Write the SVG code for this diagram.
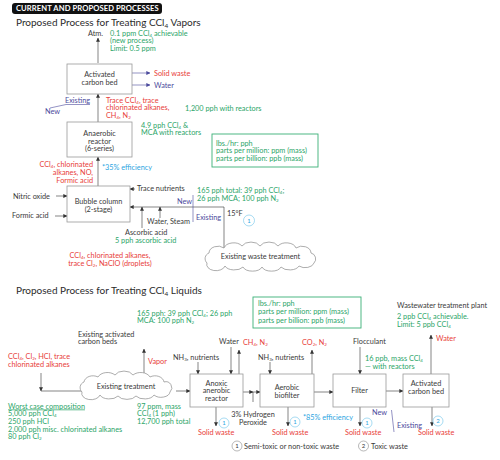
<svg xmlns="http://www.w3.org/2000/svg" width="500" height="460" viewBox="0 0 500 460">
<style>
text{font-family:Lato,"Noto Sans","Liberation Sans",sans-serif;font-size:7.3px;fill:#3a3a3a}
.t{font-size:10px;fill:#2b2b2b}
.h{font-size:7.6px;font-weight:bold;fill:#fff;letter-spacing:0.1px}
.g{fill:#2ba568}
.r{fill:#e8403a}
.p{fill:#4b4a9c}
.b{fill:#2aa5df}
.c{text-anchor:middle}
.e{text-anchor:end}
.sub{font-size:4.5px;baseline-shift:-1px}
.t .sub{font-size:6.5px;baseline-shift:-2px}
.box{fill:#fff;stroke:#9a9a9a;stroke-width:0.8}
.leg{fill:#fff;stroke:#3bb077;stroke-width:0.9}
.cl{fill:#fff;stroke:#8a8a8a;stroke-width:0.7}
.ln{fill:none;stroke:#333;stroke-width:0.6}
.lp{fill:none;stroke:#4b4a9c;stroke-width:0.6}
.ci{fill:#fff;stroke:#6cc3ea;stroke-width:0.6}
.cg{fill:#fff;stroke:#888;stroke-width:0.6}
.cn{font-size:6px;fill:#2aa5df;text-anchor:middle}
.cd{font-size:6px;fill:#333;text-anchor:middle}
</style>
<defs>
<marker id="a" viewBox="0 0 6 6" refX="5.5" refY="3" markerWidth="4" markerHeight="4" markerUnits="userSpaceOnUse" orient="auto"><path d="M0,0L6,3L0,6z" fill="#333"/></marker>
<marker id="ap" viewBox="0 0 6 6" refX="5.5" refY="3" markerWidth="4" markerHeight="4" markerUnits="userSpaceOnUse" orient="auto"><path d="M0,0L6,3L0,6z" fill="#4b4a9c"/></marker>
</defs>

<rect x="12" y="3" width="150" height="11" rx="3" fill="#111"/>
<text class="h" x="16" y="11.3">CURRENT AND PROPOSED PROCESSES</text>

<text class="t" x="16" y="26">Proposed Process for Treating CCl<tspan class="sub">4</tspan> Vapors</text>
<text class="t" x="16" y="293.5">Proposed Process for Treating CCl<tspan class="sub">4</tspan> Liquids</text>

<g id="connectors">
<path class="ln" d="M98,63V38" marker-end="url(#a)"/>
<path class="lp" d="M132,73H150" marker-end="url(#ap)"/>
<path class="lp" d="M132,85H150" marker-end="url(#ap)"/>
<path class="lp" d="M90,104.5H66L50,108"/>
<path class="ln" d="M98,122V94" marker-end="url(#a)"/>
<path class="ln" d="M98,187V157" marker-end="url(#a)"/>
<path class="ln" d="M56,196H67" marker-end="url(#a)"/>
<path class="ln" d="M55,216H67" marker-end="url(#a)"/>
<path class="ln" d="M135,189H130" marker-end="url(#a)"/>
<path class="ln" d="M224,248V207H130" marker-end="url(#a)"/>
<path class="ln" d="M142,228V207" marker-end="url(#a)"/>
<path class="ln" d="M160,218V207" marker-end="url(#a)"/>
<path class="lp" d="M193,195V222"/>
<path class="ln" d="M144,376V349" marker-end="url(#a)"/>
<path class="ln" d="M41,373V391" marker-end="url(#a)"/>
<path class="ln" d="M41,391H82"/>
<path class="ln" d="M176,391H190" marker-end="url(#a)"/>
<path class="ln" d="M198,362V374" marker-end="url(#a)"/>
<path class="ln" d="M231,347V374" marker-end="url(#a)"/>
<path class="ln" d="M239,374V350" marker-end="url(#a)"/>
<path class="ln" d="M243,392H253" marker-end="url(#a)"/>
<path class="ln" d="M253,392H260" marker-end="url(#a)"/>
<path class="ln" d="M253,402V392"/>
<path class="ln" d="M270,362V374" marker-end="url(#a)"/>
<path class="ln" d="M312,374V350" marker-end="url(#a)"/>
<path class="ln" d="M314,392H333" marker-end="url(#a)"/>
<path class="ln" d="M360,347V374" marker-end="url(#a)"/>
<path class="ln" d="M386,391H403" marker-end="url(#a)"/>
<path class="ln" d="M431,374V335" marker-end="url(#a)"/>
<path class="ln" d="M216,407V426" marker-end="url(#a)"/>
<path class="ln" d="M288,407V426" marker-end="url(#a)"/>
<path class="ln" d="M360,407V426" marker-end="url(#a)"/>
<path class="ln" d="M432,407V426" marker-end="url(#a)"/>
<path class="lp" d="M391.5,410L394,432"/>
</g>

<g id="atm"><text x="88" y="36">Atm.</text></g>
<g id="note-top">
<text class="g" x="110" y="35.5">0.1 ppm CCl<tspan class="sub">4</tspan> achievable</text>
<text class="g" x="110" y="43">(new process)</text>
<text class="g" x="110" y="50.5">Limit: 0.5 ppm</text>
</g>

<g id="carbon-bed-1">
<rect class="box" x="67" y="64" width="65" height="30"/>
<text class="c" x="99.5" y="76.5">Activated</text>
<text class="c" x="99.5" y="84.5">carbon bed</text>
</g>
<text class="r" x="154" y="75.5">Solid waste</text>
<text class="p" x="154" y="87.5">Water</text>
<text class="p" x="65" y="102.5">Existing</text>
<text class="p" x="45" y="113.5">New</text>
<text class="r" x="106" y="102.5">Trace CCl<tspan class="sub">4</tspan>, trace</text>
<text class="r" x="106" y="110">chlorinated alkanes,</text>
<text class="r" x="106" y="117.5">CH<tspan class="sub">4</tspan>, N<tspan class="sub">2</tspan></text>
<text class="g" x="185" y="111">1,200 pph with reactors</text>

<g id="anaerobic-reactor">
<rect class="box" x="67" y="122" width="65" height="35"/>
<text class="c" x="99.5" y="136">Anaerobic</text>
<text class="c" x="99.5" y="143.5">reactor</text>
<text class="c" x="99.5" y="151">(6-series)</text>
</g>
<text class="g" x="141" y="127.5">4.9 pph CCl<tspan class="sub">4</tspan> &amp;</text>
<text class="g" x="141" y="135">MCA with reactors</text>

<g id="legend-1">
<rect class="leg" x="212" y="134" width="106" height="33"/>
<text class="g" x="216" y="145.5">lbs./hr: pph</text>
<text class="g" x="216" y="153">parts per million: ppm (mass)</text>
<text class="g" x="216" y="160.5">parts per billion: ppb (mass)</text>
</g>

<text class="r e" x="93" y="166.5">CCl<tspan class="sub">4</tspan>, chlorinated</text>
<text class="r e" x="93" y="174.5">alkanes, NO,</text>
<text class="r e" x="93" y="182.5">Formic acid</text>
<text class="b" x="102" y="169.5">*35% efficiency</text>

<g id="bubble-column">
<rect class="box" x="67" y="186" width="63" height="36"/>
<text class="c" x="98.5" y="203.5">Bubble column</text>
<text class="c" x="98.5" y="211.5">(2-stage)</text>
</g>
<text x="13" y="198.5">Nitric oxide</text>
<text x="12" y="218">Formic acid</text>
<text x="137" y="190.5">Trace nutrients</text>
<text x="147" y="223.5">Water, Steam</text>
<text x="125" y="234.5">Ascorbic acid</text>
<text class="g" x="115" y="243">5 pph ascorbic acid</text>
<text class="r c" x="110" y="257.5">CCl<tspan class="sub">4</tspan>, chlorinated alkanes,</text>
<text class="r c" x="110" y="265.5">trace Cl<tspan class="sub">2</tspan>, NaClO (droplets)</text>
<text class="g" x="197" y="192.5">165 pph total: 39 pph CCl<tspan class="sub">4</tspan>;</text>
<text class="g" x="197" y="200.5">26 pph MCA; 100 pph N<tspan class="sub">2</tspan></text>
<text class="p e" x="192" y="203.5">New</text>
<text class="p" x="196" y="219.5">Existing</text>
<text x="227" y="215.5">15°F</text>
<g id="mark-15f"><circle class="ci" cx="249" cy="220.5" r="5.5"/><text class="cn" x="249" y="222.7">1</text></g>

<g id="waste-treatment">
<path class="cl" d="M207,263a6,6 0 0 1 2,-10a9,7 0 0 1 15,-5a10,7 0 0 1 18,-2a10,7 0 0 1 18,0a10,7 0 0 1 18,0a10,7 0 0 1 18,2a9,7 0 0 1 15,5a6,6 0 0 1 3,10a9,6 0 0 1 -15,3a10,6 0 0 1 -18,1a10,6 0 0 1 -19,0a10,6 0 0 1 -19,0a10,6 0 0 1 -18,-1a9,6 0 0 1 -18,-3z"/>
<text class="c" x="260.5" y="258.5">Existing waste treatment</text>
</g>

<text class="g" x="137" y="315.5">165 pph: 39 pph CCl<tspan class="sub">4</tspan>; 26 pph</text>
<text class="g" x="137" y="323">MCA: 100 pph N<tspan class="sub">2</tspan></text>

<g id="legend-2">
<rect class="leg" x="253" y="297" width="108" height="31"/>
<text class="g" x="258" y="305.5">lbs./hr: pph</text>
<text class="g" x="258" y="314">parts per million: ppm (mass)</text>
<text class="g" x="258" y="322.5">parts per billion: ppb (mass)</text>
</g>

<text x="78" y="336.5">Existing activated</text>
<text x="78" y="344">carbon beds</text>
<text class="r" x="8" y="358.5">CCl<tspan class="sub">4</tspan>, Cl<tspan class="sub">2</tspan>, HCl, trace</text>
<text class="r" x="8" y="366.5">chlorinated alkanes</text>
<text class="r" x="148" y="364">Vapor</text>

<g id="existing-treatment">
<path class="cl" d="M82,392a6,6 0 0 1 2,-10a9,7 0 0 1 14,-5a10,7 0 0 1 17,-2a10,7 0 0 1 18,0a10,7 0 0 1 17,2a9,7 0 0 1 14,5a6,6 0 0 1 6,10a9,6 0 0 1 -16,3a10,6 0 0 1 -18,1a10,6 0 0 1 -18,0a10,6 0 0 1 -18,-1a9,6 0 0 1 -18,-3z"/>
<text class="c" x="126" y="388.5">Existing treatment</text>
</g>

<g id="anoxic-reactor">
<rect class="box" x="190" y="374" width="53" height="33"/>
<text class="c" x="216.5" y="385.5">Anoxic</text>
<text class="c" x="216.5" y="393">anerobic</text>
<text class="c" x="216.5" y="400.5">reactor</text>
</g>
<text x="173" y="359.5">NH<tspan class="sub">3</tspan>, nutrients</text>
<text x="219" y="344">Water</text>
<text class="r" x="243" y="345">CH<tspan class="sub">4</tspan>, N<tspan class="sub">2</tspan></text>
<text class="c" x="253" y="416.5">3% Hydrogen</text>
<text class="c" x="253" y="424.5">Peroxide</text>

<g id="aerobic-biofilter">
<rect class="box" x="260" y="374" width="54" height="33"/>
<text class="c" x="287" y="390">Aerobic</text>
<text class="c" x="287" y="398">biofilter</text>
</g>
<text x="258" y="359.5">NH<tspan class="sub">3</tspan>, nutrients</text>
<text class="r" x="302" y="345">CO<tspan class="sub">2</tspan>, N<tspan class="sub">2</tspan></text>

<g id="filter">
<rect class="box" x="333" y="374" width="53" height="33"/>
<text class="c" x="359.5" y="393">Filter</text>
</g>
<text x="353" y="343.5">Flocculant</text>
<text class="g" x="365" y="360.5">16 ppb, mass CCl<tspan class="sub">4</tspan></text>
<text class="g" x="365" y="368.5">— with reactors</text>

<g id="carbon-bed-2">
<rect class="box" x="403" y="374" width="46" height="33"/>
<text class="c" x="426" y="385.5">Activated</text>
<text class="c" x="426" y="394">carbon bed</text>
</g>
<text class="r" x="436" y="340.5">Water</text>
<text x="397" y="308">Wastewater treatment plant</text>
<text class="g" x="397" y="319">2 ppb CCl<tspan class="sub">4</tspan> achievable.</text>
<text class="g" x="397" y="327">Limit: 5 ppb CCl<tspan class="sub">4</tspan></text>

<text class="r" x="198" y="435">Solid waste</text>
<g><circle class="ci" cx="224" cy="423" r="5"/><text class="cn" x="224" y="425.2">1</text></g>
<text class="r" x="272" y="435">Solid waste</text>
<g><circle class="ci" cx="295" cy="422" r="5"/><text class="cn" x="295" y="424.2">1</text></g>
<text class="r" x="345" y="434.5">Solid waste</text>
<g><circle class="ci" cx="367" cy="423" r="5"/><text class="cn" x="367" y="425.2">1</text></g>
<text class="r" x="418" y="434.5">Solid waste</text>
<g><circle class="ci" cx="438" cy="421" r="5"/><text class="cn" x="438" y="423.2">2</text></g>
<text class="b" x="303" y="419.5">*85% efficiency</text>
<text class="p" x="372" y="414.5">New</text>
<text class="p" x="397" y="427.5">Existing</text>

<g id="legend-waste">
<circle class="cg" cx="237" cy="446" r="5"/><text class="cd" x="237" y="448.2">1</text>
<text x="244" y="448.5">Semi-toxic or non-toxic waste</text>
<circle class="cg" cx="363.5" cy="446" r="5"/><text class="cd" x="363.5" y="448.2">2</text>
<text x="371" y="448.5">Toxic waste</text>
</g>

<g id="worst-case">
<text class="g" x="8" y="408.5" text-decoration="underline">Worst case composition</text>
<text class="g" x="8" y="416">5,000 pph CCl<tspan class="sub">4</tspan></text>
<text class="g" x="8" y="424">250 pph HCl</text>
<text class="g" x="8" y="431.5">2,000 pph misc. chlorinated alkanes</text>
<text class="g" x="8" y="439">80 pph Cl<tspan class="sub">2</tspan></text>
</g>
<text class="g" x="137" y="408.5">97 ppm, mass</text>
<text class="g" x="137" y="416">CCl<tspan class="sub">4</tspan> (1 pph)</text>
<text class="g" x="137" y="424">12,700 pph total</text>
</svg>
